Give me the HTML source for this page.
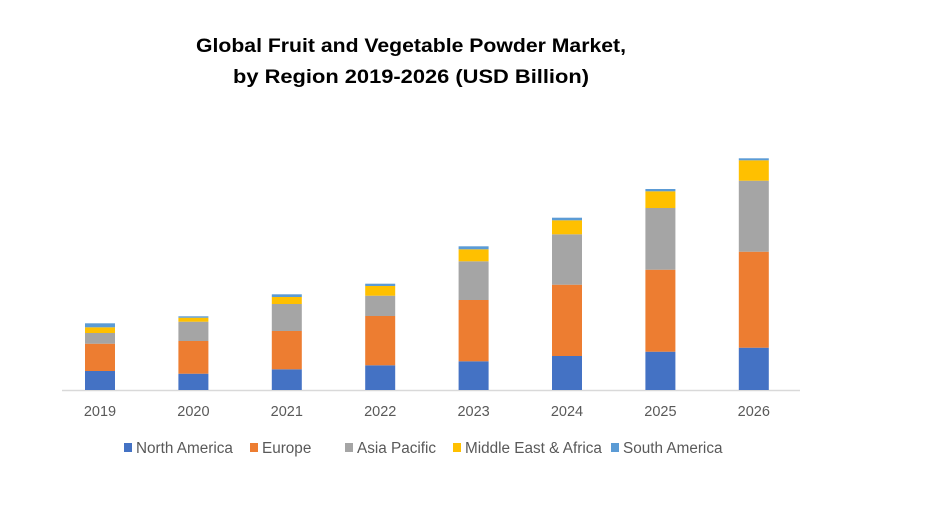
<!DOCTYPE html>
<html><head><meta charset="utf-8"><style>
body{margin:0;background:#fff;}
svg{display:block;font-family:"Liberation Sans",Arial,sans-serif;}
</style></head><body>
<svg id="chart" width="940" height="511" viewBox="0 0 940 511">
<rect width="940" height="511" fill="#fff"/>
<text x="411" y="52" text-anchor="middle" font-size="19" font-weight="bold" fill="#000" textLength="430" lengthAdjust="spacingAndGlyphs">Global Fruit and Vegetable Powder Market,</text>
<text x="411" y="83" text-anchor="middle" font-size="19" font-weight="bold" fill="#000" textLength="356" lengthAdjust="spacingAndGlyphs">by Region 2019-2026 (USD Billion)</text>
<line x1="62" y1="390.5" x2="800" y2="390.5" stroke="#d9d9d9" stroke-width="1.5"/>
<g id="bars"></g>
<g id="xlabels"></g>
<g id="legend"></g>
</svg>
<script>
const categories = ["2019","2020","2021","2022","2023","2024","2025","2026"];
const seriesNames = ["North America","Europe","Asia Pacific","Middle East & Africa","South America"];
const northAmerica = [1.9, 1.63, 2.07, 2.47, 2.87, 3.4, 3.83, 4.23];
const europe = [2.73, 3.27, 3.83, 4.93, 6.13, 7.13, 8.2, 9.6];
const asiaPacific = [1.07, 1.93, 2.7, 2.03, 3.87, 5.04, 6.17, 7.1];
const middleEastAfrica = [0.57, 0.4, 0.7, 0.97, 1.2, 1.4, 1.67, 2.04];
const southAmerica = [0.4, 0.14, 0.27, 0.23, 0.3, 0.26, 0.23, 0.2];
const colors = ["#4472c4","#ed7d31","#a5a5a5","#ffc000","#5b9bd5"];

const series = [northAmerica, europe, asiaPacific, middleEastAfrica, southAmerica];
const NS = "http://www.w3.org/2000/svg";
const baseY = 390, pxPerUnit = 10;
function yScale(v){ return baseY - v * pxPerUnit; }
function xCenter(i){ return 100 + i * 93.4; }
const barW = 30;
const gBars = document.getElementById("bars");
categories.forEach((c, i) => {
  let cum = 0;
  series.forEach((s, k) => {
    const v = s[i];
    const y1 = yScale(cum), y2 = yScale(cum + v);
    const r = document.createElementNS(NS, "rect");
    r.setAttribute("x", xCenter(i) - barW / 2);
    r.setAttribute("y", y2);
    r.setAttribute("width", barW);
    r.setAttribute("height", y1 - y2);
    r.setAttribute("fill", colors[k]);
    
    
    gBars.appendChild(r);
    cum += v;
  });
  const t = document.createElementNS(NS, "text");
  t.setAttribute("x", xCenter(i));
  t.setAttribute("y", 416);
  t.setAttribute("text-anchor", "middle");
  t.setAttribute("font-size", "14.5");
  t.setAttribute("fill", "#595959");
  t.textContent = c;
  
  
  document.getElementById("xlabels").appendChild(t);
});
const legendX = [124, 250, 345, 453, 611];
const gLeg = document.getElementById("legend");
seriesNames.forEach((n, k) => {
  const g = document.createElementNS(NS, "g");
  
  
  const sq = document.createElementNS(NS, "rect");
  sq.setAttribute("x", legendX[k]);
  sq.setAttribute("y", 443);
  sq.setAttribute("width", 8);
  sq.setAttribute("height", 9);
  sq.setAttribute("fill", colors[k]);
  
  
  const t = document.createElementNS(NS, "text");
  t.setAttribute("x", legendX[k] + 12);
  t.setAttribute("y", 453);
  t.setAttribute("font-size", "15.3");
  t.setAttribute("fill", "#595959");
  t.textContent = n;
  
  
  g.appendChild(sq); g.appendChild(t);
  gLeg.appendChild(g);
});
</script>
</body></html>
